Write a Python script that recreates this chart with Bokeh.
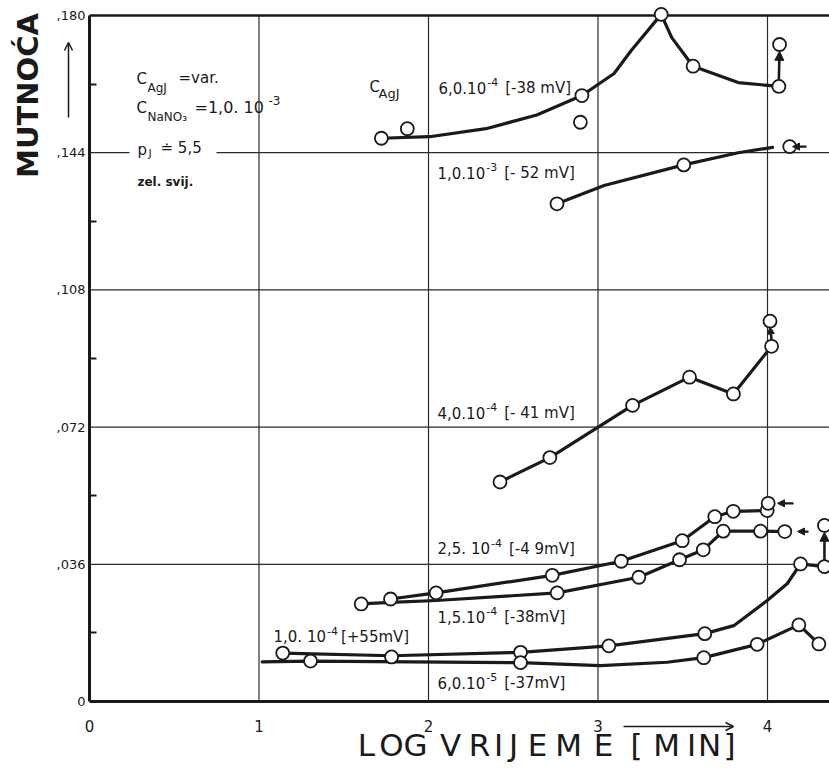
from math import pi
from bokeh.plotting import figure
from bokeh.models import (Range1d, FixedTicker, Label, Arrow, NormalHead, OpenHead,
                          BoxAnnotation, LinearAxis)
from bokeh.embed import file_html
from bokeh.resources import INLINE

# ---------------- data ----------------
x_ticks = [0, 1, 2, 3, 4]
y_ticks = [0.0, 0.036, 0.072, 0.108, 0.144, 0.180]
y_tick_labels = ["0", ",036", ",072", ",108", ",144", ",180"]
y_minor_ticks = [0.018, 0.054, 0.090, 0.126, 0.162]
x_grid = [1, 2, 3, 4]
y_grid = [0.036, 0.072, 0.108, 0.144]

# 6,0.10^-4 [-38 mV]
c60e4_x = [1.722, 1.875, 2.905, 3.373, 3.561, 4.067]
c60e4_y = [0.1478, 0.1503, 0.1590, 0.1803, 0.1667, 0.1614]
c60e4_line_x = [1.722, 2.006, 2.339, 2.639, 2.905, 3.095, 3.196, 3.373, 3.435, 3.561, 3.827, 4.067]
c60e4_line_y = [0.1478, 0.1482, 0.1503, 0.1539, 0.1590, 0.1648, 0.1708, 0.1803, 0.1742, 0.1667, 0.1624, 0.1614]
c60e4_extra_x = [2.896, 4.071]
c60e4_extra_y = [0.1520, 0.1724]

# 1,0.10^-3 [-52 mV]
c10e3_x = [2.758, 3.506, 4.131]
c10e3_y = [0.1306, 0.1408, 0.1456]
c10e3_line_x = [2.758, 3.036, 3.506, 3.827, 4.030]
c10e3_line_y = [0.1306, 0.1354, 0.1408, 0.1440, 0.1454]

# 4,0.10^-4 [-41 mV]
c40e4_x = [2.422, 2.716, 3.204, 3.540, 3.799, 4.024]
c40e4_y = [0.0576, 0.0640, 0.0777, 0.0851, 0.0807, 0.0932]
c40e4_extra_x = [4.015]
c40e4_extra_y = [0.0998]

# 2,5.10^-4 [-49 mV]
c25e4_x = [1.776, 2.045, 2.730, 3.137, 3.497, 3.689, 3.798, 3.998]
c25e4_y = [0.0269, 0.0285, 0.0331, 0.0368, 0.0422, 0.0485, 0.0499, 0.0501]
c25e4_extra_x = [4.004]
c25e4_extra_y = [0.0520]

# 1,5.10^-4 [-38 mV]
c15e4_x = [1.603, 2.759, 3.241, 3.481, 3.621, 3.739, 3.959, 4.102]
c15e4_y = [0.0256, 0.0285, 0.0326, 0.0372, 0.0398, 0.0447, 0.0447, 0.0446]
c15e4_line_x = [1.603, 1.776, 2.045, 2.759, 3.241, 3.481, 3.621, 3.739, 3.959, 4.102]
c15e4_line_y = [0.0256, 0.0260, 0.0265, 0.0285, 0.0326, 0.0372, 0.0398, 0.0447, 0.0447, 0.0446]

# 1,0.10^-4 [+55 mV]
c10e4_x = [1.140, 1.782, 2.543, 3.064, 3.630, 4.195, 4.336]
c10e4_y = [0.0127, 0.0117, 0.0129, 0.0146, 0.0178, 0.0361, 0.0354]
c10e4_line_x = [1.140, 1.782, 2.543, 3.064, 3.630, 3.801, 3.998, 4.116, 4.195, 4.336]
c10e4_line_y = [0.0127, 0.0120, 0.0129, 0.0146, 0.0178, 0.0199, 0.0265, 0.0309, 0.0361, 0.0354]
c10e4_extra_x = [4.336]
c10e4_extra_y = [0.0462]

# 6,0.10^-5 [-37 mV]
c60e5_x = [1.304, 2.543, 3.624, 3.939, 4.185, 4.303]
c60e5_y = [0.0106, 0.0102, 0.0115, 0.0150, 0.0201, 0.0151]
c60e5_line_x = [1.019, 1.304, 2.543, 3.014, 3.408, 3.624, 3.939, 4.185, 4.303]
c60e5_line_y = [0.0104, 0.0106, 0.0102, 0.0094, 0.0103, 0.0115, 0.0150, 0.0201, 0.0151]

# curve labels: (mantissa, exponent, potential)
curve_labels = [
    ("6,0.10", "-4", "[-38 mV]"),
    ("1,0.10", "-3", "[- 52 mV]"),
    ("4,0.10", "-4", "[- 41 mV]"),
    ("2,5. 10", "-4", "[-4 9mV]"),
    ("1,5.10", "-4", "[-38mV]"),
    ("1,0. 10", "-4", "[+55mV]"),
    ("6,0.10", "-5", "[-37mV]"),
]

# ---------------- figure ----------------
INK = "#1a1a1a"
FONT = "DejaVu Sans"
W, H = 829, 778
X0PX, Y0PX, XSCALE, YSCALE = 89, 701, 169.5, 3811.0   # page pixel of the origin, px per unit


def X(px):
    return (px - X0PX) / XSCALE


def Y(py):
    return (Y0PX - py) / YSCALE


XMAX = X(W)
p = figure(width=W, height=H, output_backend="svg", toolbar_location=None,
           x_range=Range1d(X(0), X(W)), y_range=Range1d(Y(H), Y(0)),
           x_axis_location=None, y_axis_location=None,
           min_border=0, min_border_left=0, min_border_right=0,
           min_border_top=0, min_border_bottom=0)
p.outline_line_color = None
p.grid.visible = False
p.background_fill_color = "white"
p.border_fill_color = "white"

# grid lines (only inside the drawing area)
p.segment(x0=x_grid, y0=[0] * len(x_grid), x1=x_grid, y1=[0.180] * len(x_grid),
          line_color="#2a2a2a", line_width=1.2)
p.segment(x0=[0] * len(y_grid), y0=y_grid, x1=[XMAX] * len(y_grid), y1=y_grid,
          line_color="#2a2a2a", line_width=1.2)
p.segment(x0=[0], y0=[0.180], x1=[XMAX], y1=[0.180], line_color=INK, line_width=2.6)

# axes fixed at the origin
xaxis = LinearAxis(fixed_location=0, bounds=(0, XMAX))
xaxis.ticker = FixedTicker(ticks=x_ticks)
xaxis.major_tick_in = 0
xaxis.major_tick_out = 0
xaxis.minor_tick_line_color = None
xaxis.axis_line_width = 3
xaxis.axis_line_color = INK
xaxis.major_label_standoff = 18
xaxis.major_label_text_font = FONT
xaxis.major_label_text_font_size = "15px"
xaxis.major_label_text_color = INK
p.add_layout(xaxis, "below")

yaxis = LinearAxis(fixed_location=0, bounds=(0, 0.180))
yaxis.ticker = FixedTicker(ticks=y_ticks, minor_ticks=y_minor_ticks)
yaxis.major_label_overrides = {t: s for t, s in zip(y_ticks, y_tick_labels)}
yaxis.major_tick_in = 0
yaxis.major_tick_out = 0
yaxis.minor_tick_in = 7
yaxis.minor_tick_out = 0
yaxis.minor_tick_line_width = 2
yaxis.minor_tick_line_color = INK
yaxis.axis_line_width = 3
yaxis.axis_line_color = INK
yaxis.major_label_standoff = 4
yaxis.major_label_text_font = FONT
yaxis.major_label_text_font_size = "13px"
yaxis.major_label_text_color = INK
p.add_layout(yaxis, "left")

# gap in the ,144 gridline behind "pJ = 5,5"
p.add_layout(BoxAnnotation(left=X(129), right=X(216), bottom=Y(157), top=Y(146),
                           fill_color="white", fill_alpha=1.0, line_color=None))

# curves
LW = 3.2


def curve(xs, ys):
    p.line(xs, ys, line_width=LW, line_color=INK, line_join="round", line_cap="round")


def marks(xs, ys):
    p.scatter(xs, ys, marker="circle", size=13, fill_color="white", line_color=INK, line_width=1.8)


curve(c60e4_line_x, c60e4_line_y)
curve(c10e3_line_x, c10e3_line_y)
curve(c40e4_x, c40e4_y)
curve(c25e4_x, c25e4_y)
curve(c15e4_line_x, c15e4_line_y)
curve(c10e4_line_x, c10e4_line_y)
curve(c60e5_line_x, c60e5_line_y)


def arrow(x0, y0, x1, y1, size=9, lw=2.6):
    p.add_layout(Arrow(end=NormalHead(size=size, fill_color=INK, line_color=INK),
                       x_start=x0, y_start=y0, x_end=x1, y_end=y1,
                       line_width=lw, line_color=INK))


arrow(c60e4_x[-1], c60e4_y[-1] + 0.0017, c60e4_extra_x[1], c60e4_extra_y[1] - 0.0018)
arrow(c40e4_x[-1], c40e4_y[-1] + 0.0017, c40e4_extra_x[0], c40e4_extra_y[0] - 0.0015, size=7)
arrow(c10e4_x[-1], c10e4_y[-1] + 0.0017, c10e4_extra_x[0], c10e4_extra_y[0] - 0.0018)
arrow(X(793), c25e4_extra_y[0], X(777), c25e4_extra_y[0], size=7, lw=2.2)
arrow(X(808), c15e4_y[-1], X(797), c15e4_y[-1], size=7, lw=2.2)
arrow(X(806), c10e3_y[-1], X(792), c10e3_y[-1], size=7, lw=2.2)

marks(c60e4_x, c60e4_y)
marks(c60e4_extra_x, c60e4_extra_y)
marks(c10e3_x, c10e3_y)
marks(c40e4_x, c40e4_y)
marks(c40e4_extra_x, c40e4_extra_y)
marks(c25e4_x, c25e4_y)
marks(c25e4_extra_x, c25e4_extra_y)
marks(c15e4_x, c15e4_y)
marks(c10e4_x, c10e4_y)
marks(c10e4_extra_x, c10e4_extra_y)
marks(c60e5_x, c60e5_y)


# ---------------- texts ----------------
def lab(text, px, py, size=14, align="left", baseline="middle", angle=0.0, style="normal"):
    p.add_layout(Label(x=X(px), y=Y(py), text=text, text_font=FONT,
                       text_font_size=f"{size}px", text_color=INK, text_align=align,
                       text_baseline=baseline, angle=angle, text_font_style=style))


# approximate DejaVu Sans advance widths (em) to chain text pieces
EM = {",": 0.318, ".": 0.318, " ": 0.318, "[": 0.39, "]": 0.39, "-": 0.361, "+": 0.838,
      "m": 0.974, "V": 0.684, "=": 0.838}


def tw(s, size):
    return sum(EM.get(c, 0.636) for c in s) * size


def sci_label(mant, exp, rest, px, py, size=15, sup=11, gap=7):
    lab(mant, px, py, size=size)
    x1 = px + tw(mant, size) + 1
    lab(exp, x1, py - 6, size=sup)
    x2 = x1 + tw(exp, sup) + gap
    lab(rest, x2, py, size=size)


label_pos = [(438, 87), (437, 172), (437, 412), (437, 548), (437, 616), (273, 636), (437, 682)]
for (m, e, r), (lx, ly) in zip(curve_labels, label_pos):
    sci_label(m, e, r, lx, ly, gap=(3 if r.startswith("[+") else 7))

# C_AgJ near curves
lab("C", 369, 86, size=15)
lab("AgJ", 378, 93, size=13)

# conditions block
lab("C", 136, 78, size=15)
lab("AgJ", 147, 87, size=12)
lab("=var.", 178, 77, size=15)
lab("C", 136, 107, size=15)
lab("NaNO\u2083", 147, 116, size=12)
lab("=1,0. 10", 194, 107, size=16)
lab("-3", 268, 100, size=12)
lab("p", 137, 149, size=15)
lab("J", 148, 153, size=11)
lab("\u2250 5,5", 160, 147, size=15)
lab("zel. svij.", 137, 181, size=12, style="bold")

# axis titles
lab("MUTNOĆA", 27, 95, size=29, align="center", angle=pi / 2, style="bold")
p.add_layout(Arrow(end=OpenHead(size=8, line_color=INK, line_width=1.5),
                   x_start=X(68), y_start=Y(117), x_end=X(68), y_end=Y(42),
                   line_width=1.5, line_color=INK))

title_letters = ["L", "O", "G", "V", "R", "I", "J", "E", "M", "E", "[", "M", "I", "N", "]"]
title_centers = [366, 391, 415, 450, 479, 498, 513, 537, 568, 603, 636, 666, 691, 709, 729]
for ch, cx in zip(title_letters, title_centers):
    lab(ch, cx, 744, size=31, align="center")

p.add_layout(Arrow(end=OpenHead(size=8, line_color=INK, line_width=1.4),
                   x_start=X(623), y_start=Y(726), x_end=X(733), y_end=Y(726),
                   line_width=1.4, line_color=INK))

open("out.html", "w").write(file_html(p, INLINE))
